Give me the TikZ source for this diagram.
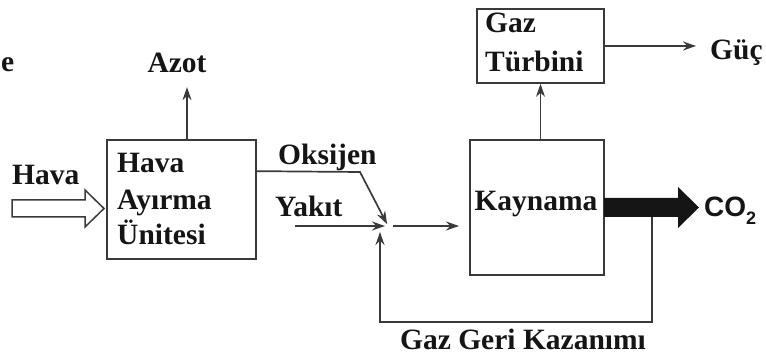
\documentclass[tikz,border=0pt]{standalone}
\usepackage{fontspec}
\setmainfont{Liberation Serif}
\newfontfamily\sansf{Liberation Sans}
\usetikzlibrary{arrows.meta,calc}
\definecolor{ln}{HTML}{3A3A3A}
\definecolor{tx}{HTML}{151515}
\begin{document}
\begin{tikzpicture}[x=1pt,y=-1pt,
  box/.style={draw=ln,line width=1.7pt,inner sep=0pt},
  arr/.style={draw=ln,line width=1.7pt,-{Stealth[length=13pt,width=9pt]}},
  lbl/.style={font=\fontsize{29.5}{34}\selectfont\bfseries,text=tx,inner sep=0pt,anchor=base west}]
\useasboundingbox (0,0) rectangle (766,358);
% boxes
\node[box,minimum width=149pt,minimum height=119pt] (hau) at (181.5,199.5) {};
\node[box,minimum width=134pt,minimum height=135pt] (kbox) at (537,207.5) {};
\node[box,minimum width=127pt,minimum height=74pt] (gt) at (540.5,46) {};
% texts
\node[lbl] (e) at (1,72) {e};
\node[lbl,anchor=base] (azot) at (177,73) {Azot};
\node[lbl] (havain) at (12,185) {Hava};
\node[lbl] (t1) at (117,173) {Hava};
\node[lbl] (t2) at (117,210) {Ayırma};
\node[lbl] (t3) at (117,244) {Ünitesi};
\node[lbl] (oks) at (278,165) {Oksijen};
\node[lbl] (yak) at (275,217) {Yakıt};
\node[lbl,anchor=base] (kay) at (536,211) {Kaynama};
\node[lbl] (gaz) at (485,33) {Gaz};
\node[lbl] (turb) at (485,72) {Türbini};
\node[lbl] (guc) at (710,60) {Güç};
\node[font=\sansf\bfseries\fontsize{28}{32}\selectfont,text=tx,inner sep=0pt,anchor=base west] (co2) at (704,217) {CO\raisebox{-0.28em}{\fontsize{18}{20}\selectfont 2}};
\node[lbl,anchor=base] (ggk) at (523,349) {Gaz Geri Kazanımı};
% coordinates
\coordinate (J) at (388,226);
\coordinate (yk) at (295,226);
\coordinate (bend) at (360,172);
\coordinate (out) at (393,226);
\coordinate (kin) at (459,226);
\coordinate (r0) at (652,217);
\coordinate (r1) at (652,322);
\coordinate (r2) at (380,322);
\coordinate (r3) at (380,232);
\coordinate (gucend) at (696,46);
% hollow input arrow
\draw[ln,line width=1.5pt,fill=white] (12,200) -- (85,200) -- (85,190) -- (104,208.5) -- (85,227) -- (85,217) -- (12,217) -- cycle;
% connectors
\draw[arr] ([xshift=5.5pt]hau.north) -- ++(0,-52);
\draw[arr,shorten >=2pt] ([yshift=-32pt]hau.north east) -- (bend) -- (J);
\draw[arr,shorten >=3pt] (yk) -- (J);
\draw[arr] (out) -- (kin);
\draw[arr] (r0) -- (r1) -- (r2) -- (r3);
\draw[arr] (gt.south |- kbox.north) -- (gt.south);
\draw[arr] (gt.east) -- (gucend);
% thick CO2 arrow
\fill[tx] (604,198) -- (678,198) -- (678,187) -- (699,207.5) -- (678,228) -- (678,217) -- (604,217) -- cycle;
\end{tikzpicture}
\end{document}
